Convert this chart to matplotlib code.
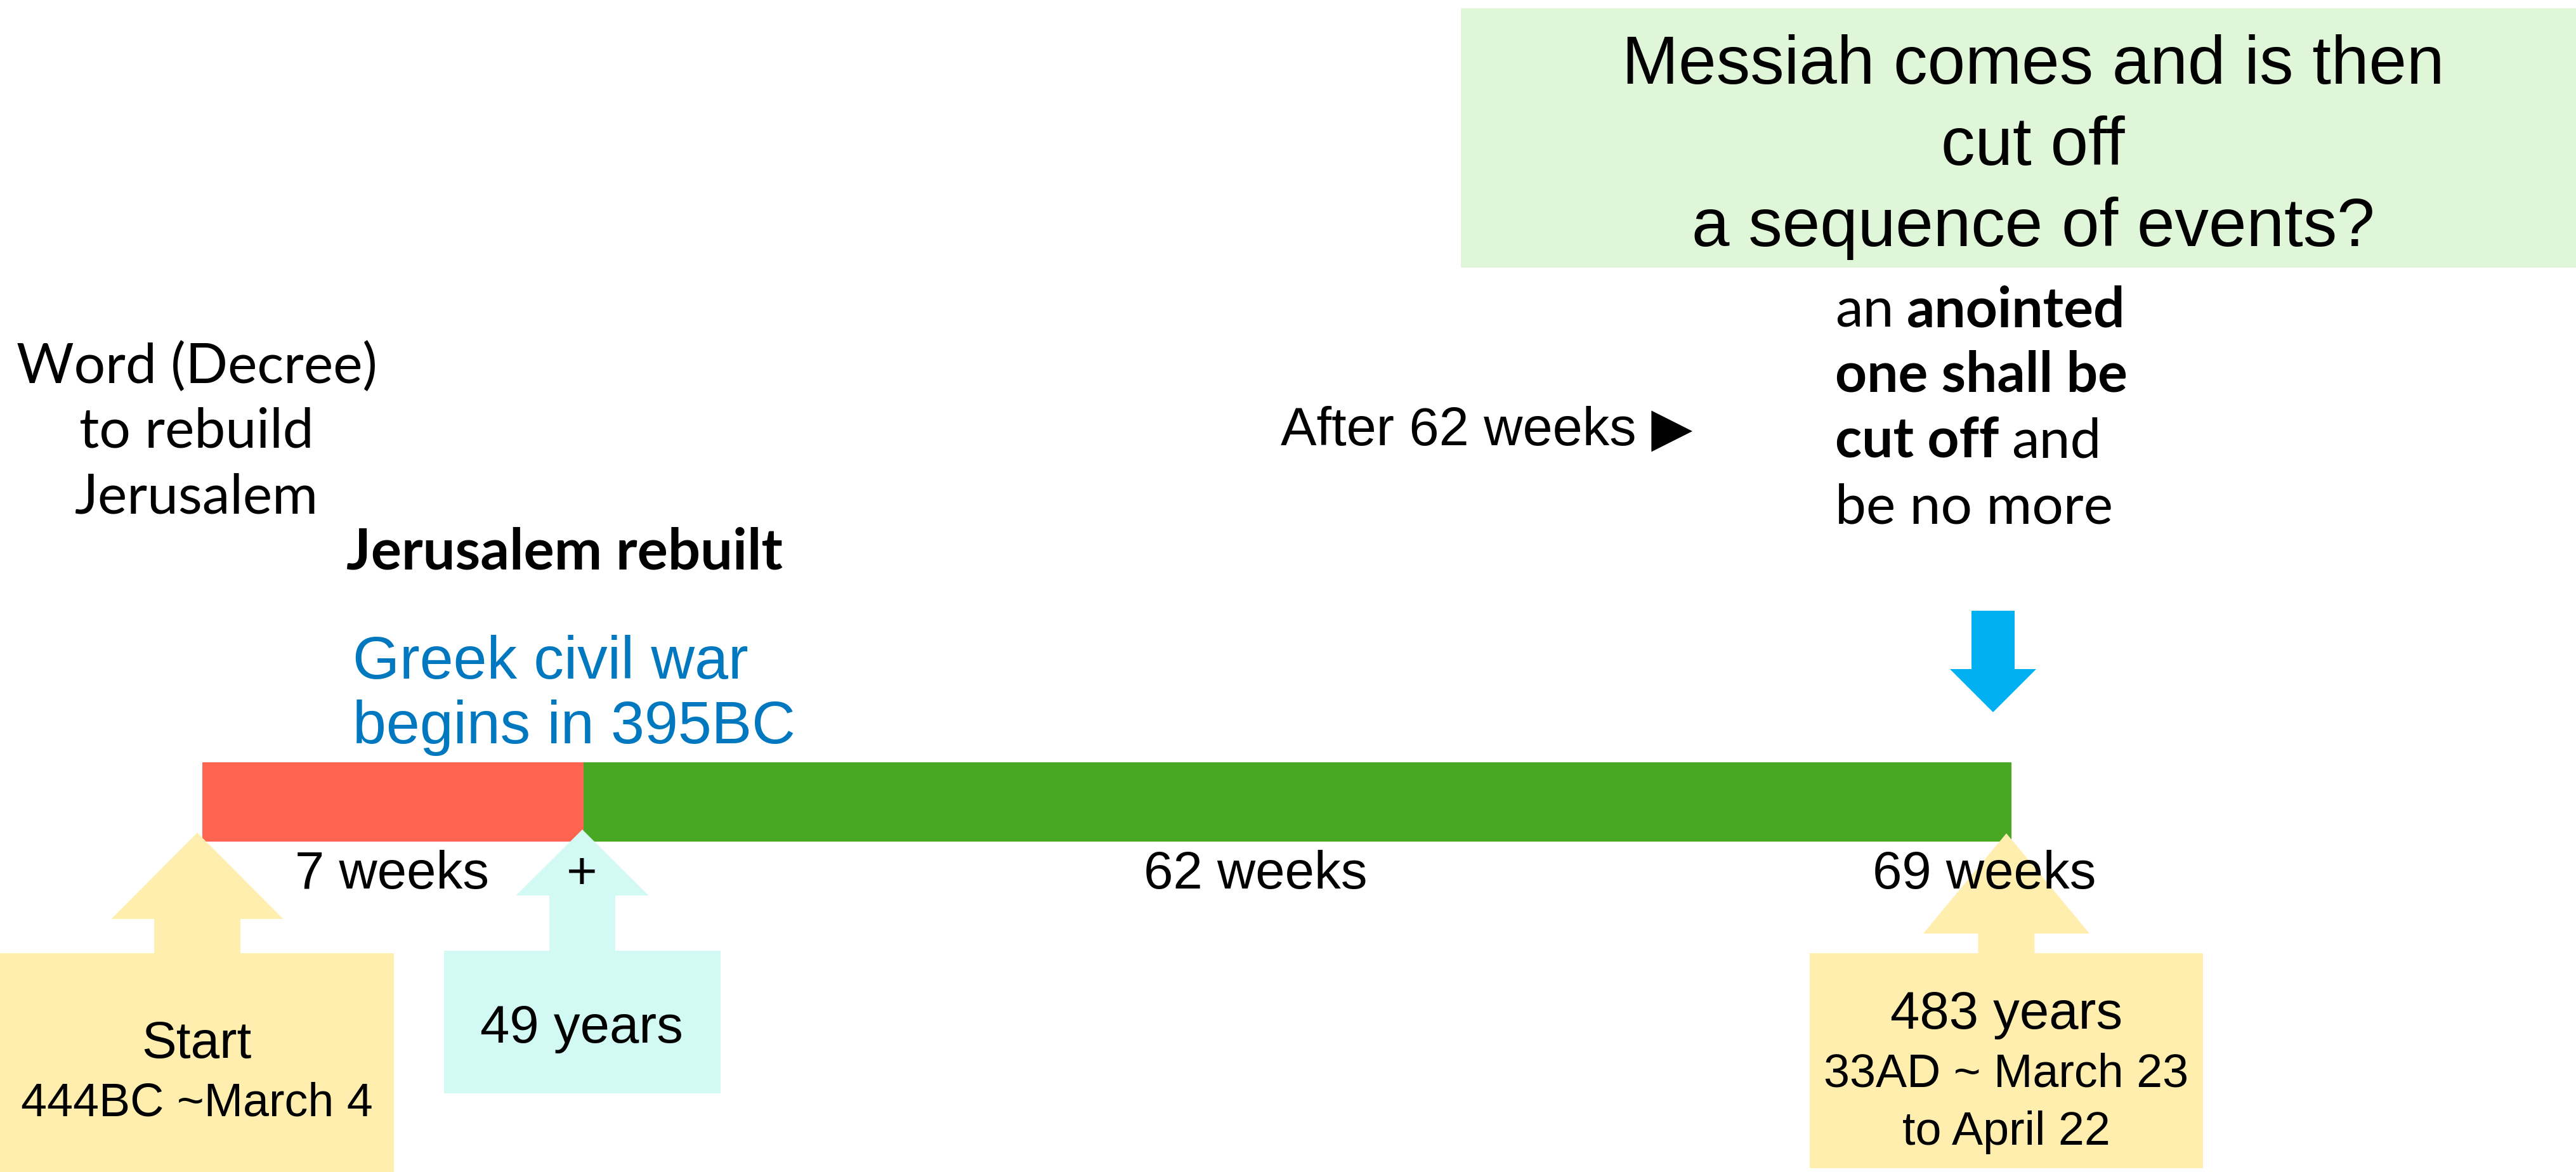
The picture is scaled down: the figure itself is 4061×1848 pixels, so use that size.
import matplotlib.pyplot as plt
from matplotlib.patches import Polygon, Rectangle

W, H = 4062, 1848
ARIAL = ['Liberation Sans', 'DejaVu Sans']
CALIBRI = ['Lato', 'DejaVu Sans']

# timeline data
segment_weeks = [7, 62]
segment_colors = ['#FF6450', '#49A823']
bar_edges = [319, 920, 3171]   # drawing positions, the original is not to scale

decree_lines = ['Word (Decree)', 'to rebuild', 'Jerusalem']
rebuilt_text = 'Jerusalem rebuilt'
greek_lines = ['Greek civil war', 'begins in 395BC']
after_text = 'After 62 weeks \u25B6'
messiah_lines = ['Messiah comes and is then', 'cut off', 'a sequence of events?']
anointed_lines = [
    [('an', 'normal'), ('anointed', 'bold')],
    [('one shall be', 'bold')],
    [('cut off', 'bold'), ('and', 'normal')],
    [('be no more', 'normal')],
]
start_lines = ['Start', '444BC ~March 4']
end_lines = ['33AD ~ March 23', 'to April 22']


def up_arrow(ax, x, tip, base, bottom, head_w, shaft_w, color):
    pts = [(x, tip), (x + head_w / 2, base), (x + shaft_w / 2, base),
           (x + shaft_w / 2, bottom), (x - shaft_w / 2, bottom),
           (x - shaft_w / 2, base), (x - head_w / 2, base)]
    ax.add_patch(Polygon(pts, closed=True, color=color, lw=0, zorder=2))


def box(ax, x0, y0, x1, y1, color):
    ax.add_patch(Rectangle((x0, y0), x1 - x0, y1 - y0, color=color, lw=0, zorder=2))


fig = plt.figure(figsize=(W / 100, H / 100), dpi=100)
ax = fig.add_axes([0, 0, 1, 1])
ax.set_xlim(0, W)
ax.set_ylim(H, 0)
ax.axis('off')

# the bar
for i, c in enumerate(segment_colors):
    ax.barh(1264.5, bar_edges[i + 1] - bar_edges[i], left=bar_edges[i],
            height=125, color=c, zorder=1)

# week labels
total_weeks = sum(segment_weeks)
week_labels = [(618, f'{segment_weeks[0]} weeks'), (917, '+'),
               (1979, f'{segment_weeks[1]} weeks'), (3128, f'{total_weeks} weeks')]
for x, s in week_labels:
    ax.text(x, 1401, s, fontsize=60, family=ARIAL, ha='center', va='baseline', zorder=3)

# start box
yellow = '#FFEEAE'
up_arrow(ax, 311, 1313, 1449, 1505, 271, 136, yellow)
box(ax, 0, 1503, 621, H, yellow)
ax.text(310, 1668, start_lines[0], fontsize=59, family=ARIAL, ha='center', va='baseline', zorder=3)
ax.text(310, 1759, start_lines[1], fontsize=53, family=ARIAL, ha='center', va='baseline', zorder=3)

# 49 years box
cyan = '#D3F9F4'
up_arrow(ax, 918, 1308, 1412, 1501, 209, 104, cyan)
box(ax, 700, 1499, 1136, 1724, cyan)
ax.text(917, 1644, f'{segment_weeks[0] * 7} years', fontsize=60, family=ARIAL,
        ha='center', va='baseline', zorder=3)

# 483 years box
up_arrow(ax, 3163, 1314, 1472, 1505, 262, 89, yellow)
box(ax, 2853, 1503, 3473, 1842, yellow)
ax.text(3163, 1622, f'{total_weeks * 7} years', fontsize=60, family=ARIAL,
        ha='center', va='baseline', zorder=3)
ax.text(3163, 1714, end_lines[0], fontsize=53, family=ARIAL, ha='center', va='baseline', zorder=3)
ax.text(3163, 1805, end_lines[1], fontsize=53, family=ARIAL, ha='center', va='baseline', zorder=3)

# blue arrow pointing down
ax.add_patch(Polygon([(3142, 1123), (3210, 1055), (3176, 1055), (3176, 963),
                      (3108, 963), (3108, 1055), (3074, 1055)],
                     closed=True, color='#00B0F0', lw=0, zorder=2))

# left texts
for y, s in zip([604, 706, 810], decree_lines):
    ax.text(310, y, s, fontsize=63, family=CALIBRI, ha='center', va='baseline')
ax.text(546, 897, rebuilt_text, fontsize=65, family=CALIBRI, fontweight='bold', va='baseline')
for y, s in zip([1070, 1172], greek_lines):
    ax.text(556, y, s, fontsize=68.5, family=ARIAL, color='#0078C0', va='baseline')

ax.text(2019, 702, after_text, fontsize=61, family=ARIAL, va='baseline')

# messiah box
box(ax, 2303, 13, W, 422, '#DFF6D8')
for y, s in zip([132, 260, 388], messiah_lines):
    ax.text(3205, y, s, fontsize=77, family=ARIAL, ha='center', va='baseline', zorder=3)

# anointed one text, mixed weights
r = fig.canvas.get_renderer()
gap = 0.23 * 63 * 100 / 72
for y, parts in zip([515, 618, 722, 825], anointed_lines):
    x = 2893
    for s, w in parts:
        t = ax.text(x, y, s, fontsize=63, family=CALIBRI, fontweight=w, va='baseline')
        x += t.get_window_extent(renderer=r).width + gap

fig.savefig('out.png', dpi=100)
